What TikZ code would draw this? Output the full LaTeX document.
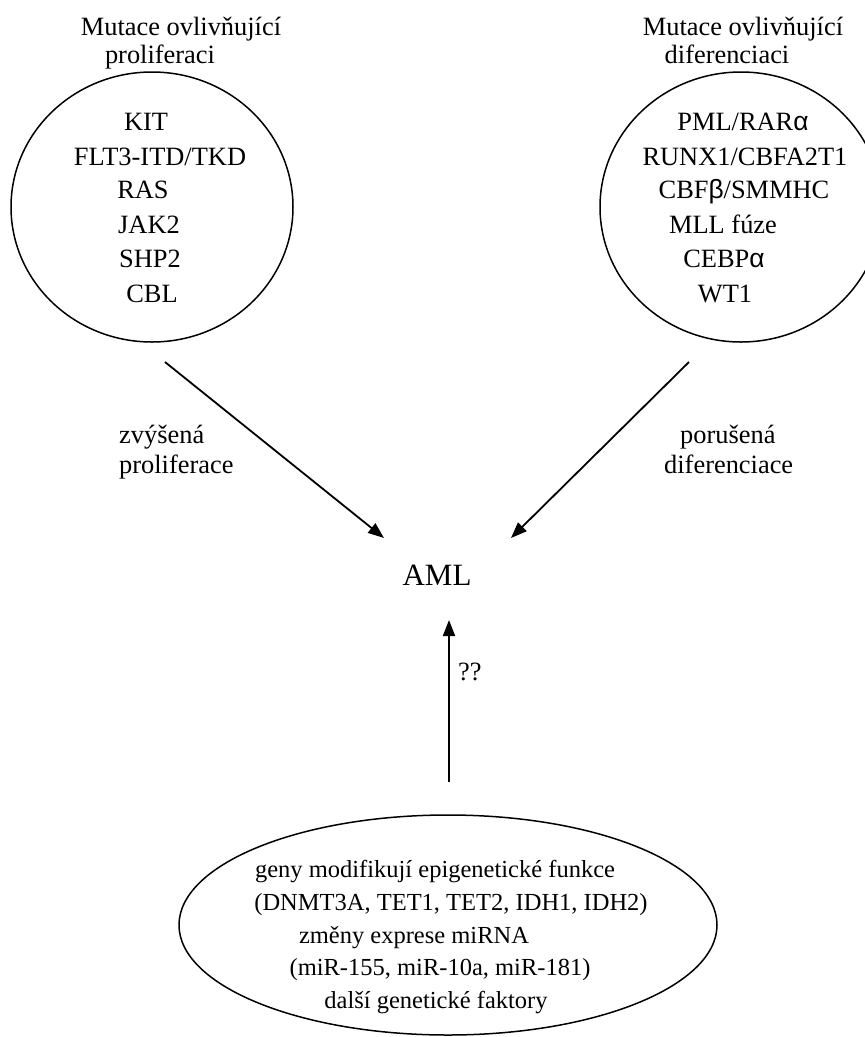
\documentclass[tikz,border=0pt]{standalone}
\usepackage{fontspec}
\setmainfont{Liberation Serif}
\newfontfamily\grk{Liberation Sans}
\usetikzlibrary{arrows.meta,shapes.geometric}
\tikzset{
  ring/.style={draw, line width=1.5pt, ellipse, minimum width=282pt, minimum height=270pt, inner sep=0pt},
  txt/.style={anchor=base, inner sep=0pt, font=\fontsize{26.4}{30}\selectfont},
  etxt/.style={anchor=base, inner sep=0pt, font=\fontsize{24.5}{30}\selectfont},
  arr/.style={line width=1.8pt, -{Triangle[length=16pt,width=12pt]}}
}
\begin{document}
\begin{tikzpicture}[x=1pt,y=-1pt]
\useasboundingbox (0,0) rectangle (865,1037);
% left group
\node[ring] (lc) at (152,207) {};
\node[txt] (lh1) at (181,35) {Mutace ovlivňující};
\node[txt] (lh2) at (160,63) {proliferaci};
\node[txt] (l1) at (146,130) {KIT};
\node[txt] (l2) at (160,165) {FLT3-ITD/TKD};
\node[txt] (l3) at (143,198) {RAS};
\node[txt] (l4) at (149,233) {JAK2};
\node[txt] (l5) at (150,267) {SHP2};
\node[txt] (l6) at (152,302) {CBL};
% right group
\node[ring] (rc) at (741,207) {};
\node[txt] (rh1) at (743,35) {Mutace ovlivňující};
\node[txt] (rh2) at (727,63) {diferenciaci};
\node[txt] (r1) at (743,130) {PML/RAR{\grk α}};
\node[txt] (r2) at (745,165) {RUNX1/CBFA2T1};
\node[txt] (r3) at (744,198) {CBF{\grk β}/SMMHC};
\node[txt] (r4) at (723,233) {MLL fúze};
\node[txt] (r5) at (724,267) {CEBP{\grk α}};
\node[txt] (r6) at (725,302) {WT1};
% AML
\node[anchor=base, inner sep=0pt, font=\fontsize{31}{36}\selectfont] (aml) at (437,585) {AML};
% arrows
\coordinate (ls) at (165,362);
\coordinate (le) at (384,538);
\coordinate (rs) at (689,362);
\coordinate (re) at (511,538);
\draw[arr] (ls) -- (le);
\draw[arr] (rs) -- (re);
\node[txt, anchor=base west] (lab1) at (119,443) {zvýšená};
\node[txt, anchor=base west] (lab2) at (119,473) {proliferace};
\node[txt, anchor=base west] (lab3) at (680,443) {porušená};
\node[txt, anchor=base west] (lab4) at (664,473) {diferenciace};
% bottom
\node[draw, line width=1.5pt, ellipse, minimum width=538pt, minimum height=220pt, inner sep=0pt] (bc) at (448,925) {};
\node[etxt] (b1) at (435,877) {geny modifikují epigenetické funkce};
\node[etxt] (b2) at (451,910) {(DNMT3A, TET1, TET2, IDH1, IDH2)};
\node[etxt] (b3) at (414,943) {změny exprese miRNA};
\node[etxt] (b4) at (440,975) {(miR-155, miR-10a, miR-181)};
\node[etxt] (b5) at (436,1008) {další genetické faktory};
\coordinate (us) at (449,782);
\coordinate (ue) at (449,620);
\draw[arr] (us) -- (ue);
\node[txt, anchor=base west] (qq) at (458,680) {??};
\end{tikzpicture}
\end{document}
